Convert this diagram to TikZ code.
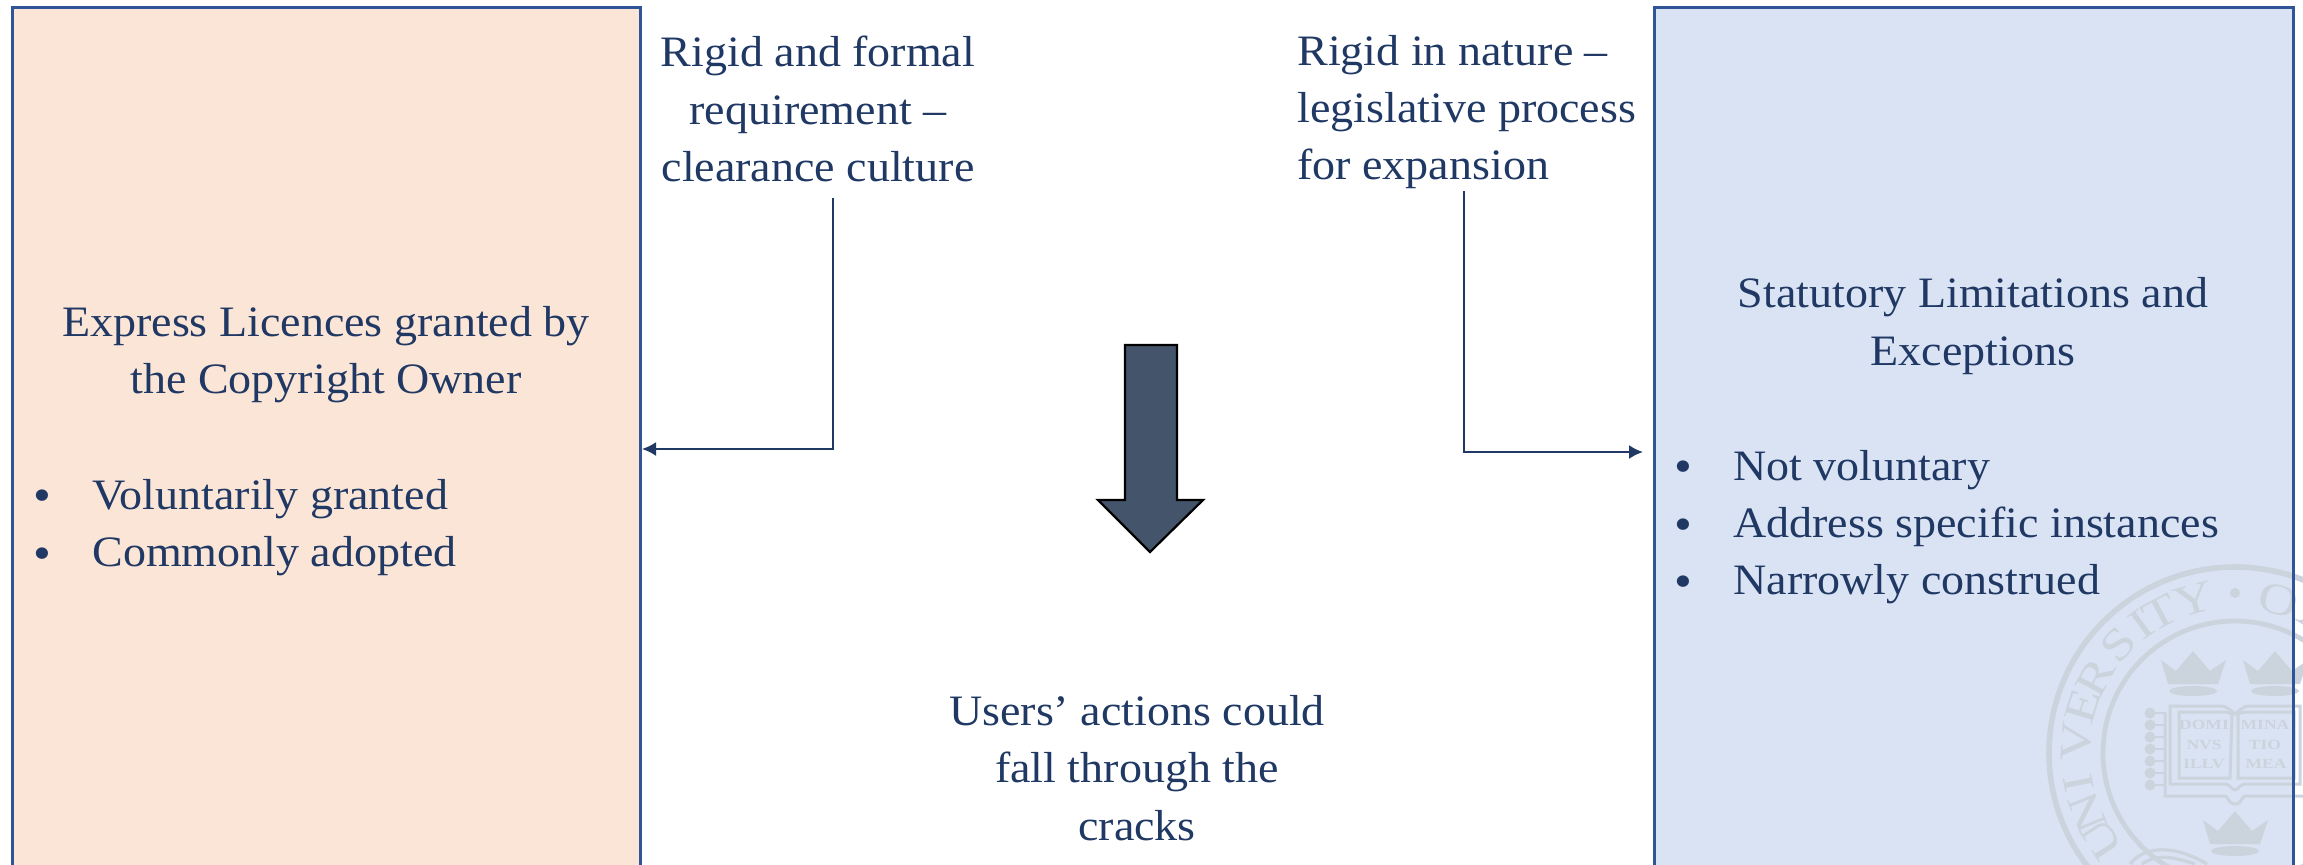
\documentclass[tikz,border=0pt]{standalone}
\usepackage{fontspec}
\setmainfont[FakeStretch=1.06]{Liberation Serif}
\newfontfamily\sealfont[FakeStretch=1.25]{Liberation Serif}
\definecolor{peach}{HTML}{FBE5D6}
\definecolor{paleblue}{HTML}{DAE3F3}
\definecolor{edgeblue}{HTML}{2F5597}
\definecolor{ink}{HTML}{203864}
\definecolor{slate}{HTML}{44546A}
\definecolor{sealc}{HTML}{CBD3DD}
\newcommand{\bul}{\llap{\makebox[29.5pt][l]{\raisebox{-1.2pt}{\fontsize{24}{28.6}\selectfont\textbullet}}}}
\tikzset{
  panel/.style={draw=edgeblue,line width=1.5pt,inner sep=0pt},
  lbl/.style={text=ink,font=\fontsize{21.7}{28.6}\selectfont,inner sep=0pt,align=center},
  lst/.style={lbl,align=left,anchor=north west},
  conn/.style={draw=ink,line width=1pt,-{Latex[length=7pt,width=7pt]}},
  seal/.style={draw=sealc,line width=1.6pt},
  sealtxt/.style={text=sealc,inner sep=0pt,font=\fontsize{22}{22}\sealfont},
  booktxt/.style={text=sealc,inner sep=0pt,font=\fontsize{7}{7}\sealfont\bfseries},
  crownshape/.pic={
    \fill[sealc] (-32,-13) -- (-17,-2) -- (0,-22) -- (17,-2) -- (33,-13) -- (25,11) -- (-25,11) -- cycle;
    \fill[sealc] (0,18) ellipse (24 and 5);
  }
}
\usetikzlibrary{arrows.meta}
\begin{document}
\begin{tikzpicture}[x=0.5pt,y=-0.5pt]
\useasboundingbox (0,0) rectangle (2303,864);
\path[fill=white] (0,0) rectangle (2303,864);
% boxes
\path[panel,fill=peach] (12,7) rectangle (640,871);
\path[fill=paleblue] (1654,7) rectangle (2293,871);
% seal
\begin{scope}
\clip (0,0) rectangle (2303,864);
\draw[seal,line width=2.8pt] (2235,753) circle (186);
\draw[seal,line width=2.4pt] (2235,753) circle (132);
\foreach \a/\l in {213/U,202/N,191/I,176/V,163/E,151.5/R,137/S,126/I,118/T,105/Y,74/O,58/X}
  \node[sealtxt,rotate=\a-90] at ({2235+159*cos(\a)},{753-159*sin(\a)}) {\l};
\fill[sealc] (2235,593) circle (5);
\pic at (2193,673) {crownshape};
\pic at (2275,673) {crownshape};
\pic at (2235,833) {crownshape};
% book
\draw[seal,line width=1.5pt] (2165,712) -- (2165,796) -- (2225,796) .. controls (2228,796) and (2228,804) .. (2235,804) .. controls (2242,804) and (2242,796) .. (2245,796) -- (2303,796);
\draw[seal,line width=1.5pt] (2170,706) -- (2170,784) -- (2225,784) .. controls (2230,784) and (2232,790) .. (2235,790) .. controls (2238,790) and (2240,784) .. (2245,784) -- (2300,784) -- (2300,706) -- (2250,706) .. controls (2242,706) and (2238,712) .. (2235,714) .. controls (2232,712) and (2228,706) .. (2220,706) -- cycle;
\draw[seal,line width=1.5pt] (2179,712) -- (2179,778) -- (2230,778) -- (2232,714) .. controls (2228,712) and (2224,712) .. (2219,712) -- cycle;
\draw[seal,line width=1.5pt] (2238,778) -- (2294,778) -- (2294,712) -- (2250,712) .. controls (2246,712) and (2242,712) .. (2238,714) -- cycle;
\foreach \yy in {713,725,737,749,761,773,785}{
  \fill[sealc] (2150,\yy) circle (5.5);
  \draw[seal,line width=1pt] (2150,\yy) -- (2165,\yy);
}
\node[booktxt] at (2204,725) {DOMI};
\node[booktxt] at (2204,745) {NVS};
\node[booktxt] at (2204,764) {ILLV};
\node[booktxt] at (2265,725) {MINA};
\node[booktxt] at (2265,745) {TIO};
\node[booktxt] at (2266,764) {MEA};
\draw[seal] (2130,864) .. controls (2145,845) and (2175,845) .. (2207,864);
\draw[seal] (2142,864) .. controls (2155,855) and (2168,855) .. (2195,864);
\end{scope}
\path[panel] (1654,7) rectangle (2293,871);
% block arrow
\draw[draw=black,fill=slate,line width=1.1pt,line join=miter] (1125,345) -- (1177,345) -- (1177,500) -- (1203,500) -- (1150,552) -- (1098,500) -- (1125,500) -- cycle;
% text
\node[lbl] (leftTitle) at (326,355) {Express Licences granted by\\the Copyright Owner};
\node[lst] (leftList) at (92,479) {\bul Voluntarily granted\\\bul Commonly adopted};
\node[lbl] (rigidA) at (818,109) {Rigid and formal\\requirement --\\clearance culture};
\node[lbl,align=left,anchor=north west] (rigidB) at (1297,35) {Rigid in nature --\\legislative process\\for expansion};
\node[lbl] (rightTitle) at (1973,326) {Statutory Limitations and\\Exceptions};
\node[lst] (rightList) at (1733,450) {\bul Not voluntary\\\bul Address specific instances\\\bul Narrowly construed};
\node[lbl] (users) at (1137,768) {Users’ actions could\\fall through the\\cracks};
% connectors
\coordinate (aStart) at (833,198);
\coordinate (aEnd) at (642,449);
\coordinate (bStart) at (1464,191);
\coordinate (bEnd) at (1643,452);
\draw[conn] (aStart) |- (aEnd);
\draw[conn] (bStart) |- (bEnd);
\end{tikzpicture}
\end{document}
